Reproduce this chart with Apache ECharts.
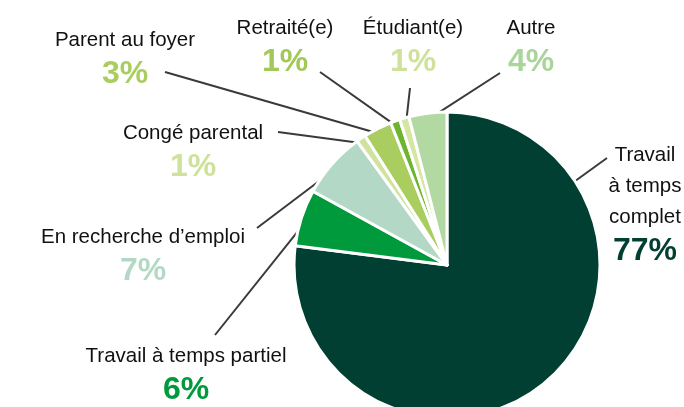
<!DOCTYPE html>
<html>
<head>
<meta charset="utf-8">
<script src="https://cdn.jsdelivr.net/npm/echarts@6/dist/echarts.min.js"></script>
<style>
  html, body { margin: 0; padding: 0; background: #fff; }
  #chart { width: 684px; height: 407px; }
</style>
</head>
<body>
<div id="chart"></div>
<script>
const categories = ['Travail à temps complet', 'Travail à temps partiel', 'En recherche d’emploi', 'Congé parental', 'Parent au foyer', 'Retraité(e)', 'Étudiant(e)', 'Autre']
const labelNames = ['Travail\nà temps\ncomplet', 'Travail à temps partiel', 'En recherche d’emploi', 'Congé parental', 'Parent au foyer', 'Retraité(e)', 'Étudiant(e)', 'Autre']
const shares = [77, 6, 7, 1, 3, 1, 1, 4]

const sliceColors = ['#003f31', '#009a3d', '#b3d9c6', '#d0e39e', '#a9cd5f', '#6db52e', '#d5e6a0', '#b3d9a3']
const pctColors = ['#003f31', '#009a3d', '#b3d9c6', '#cfe29c', '#a9cd5f', '#a2c957', '#cfe29c', '#a9d59b']

// top-centre of each label block, leader line ends (px); null start = from the slice
const labelPos = [[645, 140], [186, 341], [143, 222], [193, 118], [125, 25], [285, 13], [413, 13], [531, 13]]
const lineEnds = [[607, 158], [215, 335], [257, 228], [278, 132], [165, 72], [320, 72], [410, 88], [500, 73]]
const lineStarts = [[560, 192], null, null, null, null, null, null, null]

const CX = 447, CY = 265, R = 153

const chart = echarts.init(document.getElementById('chart'))

chart.setOption({
    animation: false,
    series: [{
        type: 'pie',
        center: [CX, CY],
        radius: R,
        startAngle: 90,
        clockwise: true,
        avoidLabelOverlap: false,
        itemStyle: { borderColor: '#fff', borderWidth: 3 },
        emphasis: { disabled: true },
        label: {
            show: true,
            position: 'outside',
            align: 'center',
            formatter: p => '{n|' + labelNames[p.dataIndex] + '}\n{p' + p.dataIndex + '|' + p.value + '%}',
            rich: Object.assign({
                n: { fontFamily: '"Liberation Sans", Arial, sans-serif', fontSize: 20.5, color: '#111', lineHeight: 31, align: 'center' }
            }, Object.fromEntries(pctColors.map((c, i) => ['p' + i, {
                fontFamily: '"Liberation Sans", Arial, sans-serif', fontWeight: 'bold', fontSize: 32, color: c, lineHeight: 36, align: 'center'
            }])))
        },
        labelLine: { show: true, lineStyle: { color: '#3a3a3a', width: 2 } },
        labelLayout: function (params) {
            const i = params.dataIndex
            let start = lineStarts[i]
            if (!start && params.labelLinePoints) {
                const p0 = params.labelLinePoints[0]
                const dx = CX - p0[0], dy = CY - p0[1]
                const d = Math.sqrt(dx * dx + dy * dy)
                start = [p0[0] + dx / d * 6, p0[1] + dy / d * 6]
            }
            const out = { x: labelPos[i][0], y: labelPos[i][1], align: 'center', verticalAlign: 'top' }
            if (start) out.labelLinePoints = [start, lineEnds[i]]
            return out
        },
        data: categories.map((name, i) => ({ name: name, value: shares[i], itemStyle: { color: sliceColors[i] } }))
    }]
})
</script>
</body>
</html>
